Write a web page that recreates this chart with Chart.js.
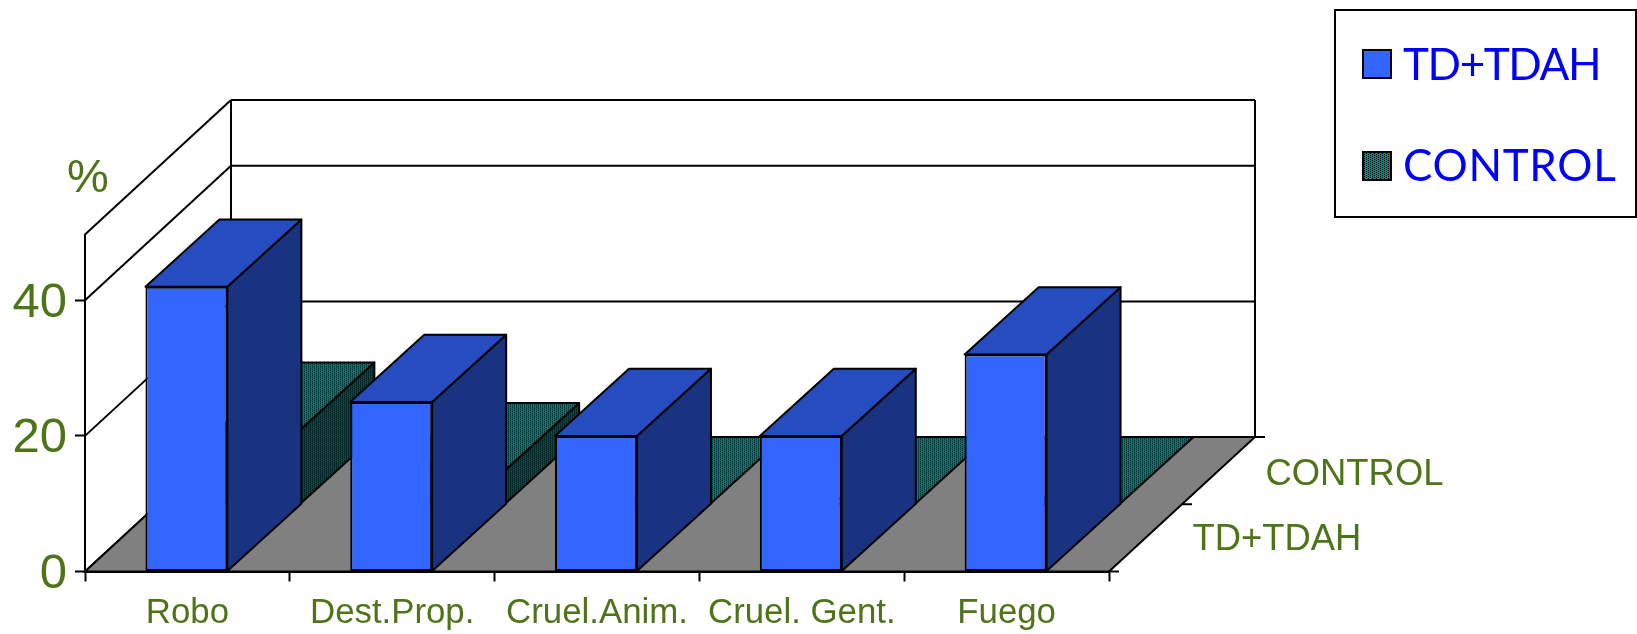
<!DOCTYPE html>
<html>
<head>
<meta charset="utf-8">
<script src="https://cdn.jsdelivr.net/npm/chart.js@4"></script>
<style>
  html, body { margin: 0; padding: 0; background: #fff; }
  canvas { display: block; }
</style>
</head>
<body>
<canvas id="chart" width="1637" height="634"></canvas>
<script>
// data
const categories = ['Robo', 'Dest.Prop.', 'Cruel.Anim.', 'Cruel. Gent.', 'Fuego'];
const tdTdah = [42, 25, 20, 20, 32];
const control = [11, 5, 0, 0, 0];
const yTicks = [0, 20, 40];
const yMax = 49.7;

// look
const OLIVE = '#4f7319';
const depthX = 146;
const depthY = 134.5;
const barShift = -1;

function dither(base, dark) {
    const c = document.createElement('canvas');
    c.width = 4;
    c.height = 2;
    const g = c.getContext('2d');
    g.fillStyle = base;
    g.fillRect(0, 0, 4, 2);
    g.fillStyle = dark;
    g.fillRect(0, 0, 1, 1);
    g.fillRect(2, 1, 1, 1);
    return g.createPattern(c, 'repeat');
}

const page = document.getElementById('chart').getContext('2d');
const tealFront = dither('#007c7c', '#001010');
const tealTop = dither('#007c7c', '#001010');
const tealSide = dither('#004c4c', '#000808');
const tealKey = dither('#008888', '#000000');

const faces = [
    { front: '#3366ff', top: '#264dbf', side: '#193380', zFrom: 0 },
    { front: tealFront, top: tealTop, side: tealSide, zFrom: 0.5 }
];

function poly(ctx, pts, fill) {
    ctx.beginPath();
    pts.forEach((p, i) => (i ? ctx.lineTo(p[0], p[1]) : ctx.moveTo(p[0], p[1])));
    ctx.closePath();
    if (fill) {
        ctx.fillStyle = fill;
        ctx.fill();
    }
    ctx.stroke();
}

function line(ctx, x1, y1, x2, y2) {
    ctx.beginPath();
    ctx.moveTo(x1, y1);
    ctx.lineTo(x2, y2);
    ctx.stroke();
}

const box3d = {
    id: 'box3d',
    // walls and floor
    beforeDatasetsDraw(chart) {
        const { ctx, chartArea: a, scales: { y } } = chart;
        ctx.save();
        ctx.strokeStyle = '#000';
        ctx.lineWidth = 2;
        [...yTicks, yMax].forEach(v => {
            const py = y.getPixelForValue(v);
            line(ctx, a.left, py, a.left + depthX, py - depthY);
            line(ctx, a.left + depthX, py - depthY, a.right + depthX, py - depthY);
        });
        line(ctx, a.left + depthX, a.top - depthY, a.left + depthX, a.bottom - depthY);
        line(ctx, a.right + depthX, a.top - depthY, a.right + depthX, a.bottom - depthY);
        poly(ctx, [
            [a.left, a.bottom], [a.right, a.bottom],
            [a.right + depthX, a.bottom - depthY], [a.left + depthX, a.bottom - depthY]
        ], '#808080');
        // ticks of the depth axis
        [0, 0.5, 1].forEach(z => {
            const px = a.right + depthX * z;
            const py = a.bottom - depthY * z;
            line(ctx, px, py, px + 10, py);
        });
        ctx.restore();
    },
    // side and top of each bar, then the library paints the front on the shifted canvas
    beforeDatasetDraw(chart, args) {
        const { ctx } = chart;
        const look = faces[args.index];
        const dx = depthX / 2 + 1;
        const dy = depthY / 2;
        ctx.save();
        ctx.translate(depthX * look.zFrom + barShift, -depthY * look.zFrom);
        ctx.save();
        ctx.strokeStyle = '#000';
        ctx.lineWidth = 2;
        ctx.lineJoin = 'round';
        args.meta.data.forEach(bar => {
            const { x, y, base, width } = bar.getProps(['x', 'y', 'base', 'width'], true);
            const l = x - width / 2;
            const r = x + width / 2;
            if (base > y) {
                poly(ctx, [[r, y], [r + dx, y - dy], [r + dx, base - dy], [r, base]], look.side);
            }
            poly(ctx, [[l, y], [l + dx, y - dy], [r + dx, y - dy], [r, y]], look.top);
        });
        ctx.restore();
    },
    afterDatasetDraw(chart) {
        chart.ctx.restore();
    },
    // depth labels, % title, legend
    afterDraw(chart) {
        const { ctx, chartArea: a, data } = chart;
        ctx.save();
        ctx.textBaseline = 'middle';
        ctx.textAlign = 'left';
        ctx.fillStyle = OLIVE;
        ctx.font = '36.4px "Liberation Sans"';
        ctx.fillText(data.datasets[1].label, a.right + depthX * 0.75 + 47, a.bottom - depthY * 0.75 + 4);
        ctx.fillText(data.datasets[0].label, a.right + depthX * 0.25 + 47, a.bottom - depthY * 0.25 + 2);
        ctx.font = '47px "Liberation Sans"';
        ctx.fillText('%', 67, 179);

        ctx.strokeStyle = '#000';
        ctx.lineWidth = 2;
        ctx.strokeRect(1335, 10, 301, 207);
        ctx.font = '44px "Lato"';
        [[50, '#3366ff', 16, '-1.4px'], [152, tealKey, 15, '0.7px']].forEach((row, i) => {
            ctx.fillStyle = row[1];
            ctx.fillRect(1363, row[0], 28, 28);
            ctx.strokeRect(1363, row[0], 28, 28);
            ctx.fillStyle = '#0000ff';
            ctx.letterSpacing = row[3];
            ctx.fillText(data.datasets[i].label, 1403, row[0] + row[2]);
        });
        ctx.restore();
    }
};

new Chart(page, {
    type: 'bar',
    data: {
        labels: categories,
        datasets: [
            { label: 'TD+TDAH', data: tdTdah, backgroundColor: faces[0].front },
            { label: 'CONTROL', data: control, backgroundColor: faces[1].front }
        ]
    },
    plugins: [box3d],
    options: {
        responsive: false,
        animation: false,
        clip: false,
        layout: { padding: { top: 234.5, right: 528, left: 0, bottom: 0 } },
        datasets: {
            bar: {
                grouped: false,
                barPercentage: 0.4,
                categoryPercentage: 1,
                borderColor: '#000',
                borderWidth: 2,
                borderSkipped: false
            }
        },
        plugins: {
            legend: { display: false },
            title: { display: false },
            tooltip: { enabled: false }
        },
        scales: {
            x: {
                afterFit: s => { s.height = 62.5; },
                border: { color: '#000', width: 2 },
                grid: { drawOnChartArea: false, tickLength: 10, tickColor: '#000', tickWidth: 2, offset: true },
                ticks: { color: OLIVE, font: { family: '"Liberation Sans"', size: 34.8 }, maxRotation: 0, autoSkip: false, padding: 11 }
            },
            y: {
                min: 0,
                max: yMax,
                afterFit: s => { s.width = 85; },
                border: { color: '#000', width: 2 },
                grid: {
                    drawOnChartArea: false,
                    tickLength: 10,
                    tickWidth: 2,
                    tickColor: c => (yTicks.includes(c.tick.value) ? '#000' : 'transparent')
                },
                ticks: {
                    stepSize: 20,
                    color: OLIVE,
                    padding: 8,
                    labelOffset: 3,
                    font: { family: '"Liberation Sans"', size: 49 },
                    callback: v => (yTicks.includes(v) ? v : '')
                }
            }
        }
    }
});
</script>
</body>
</html>
